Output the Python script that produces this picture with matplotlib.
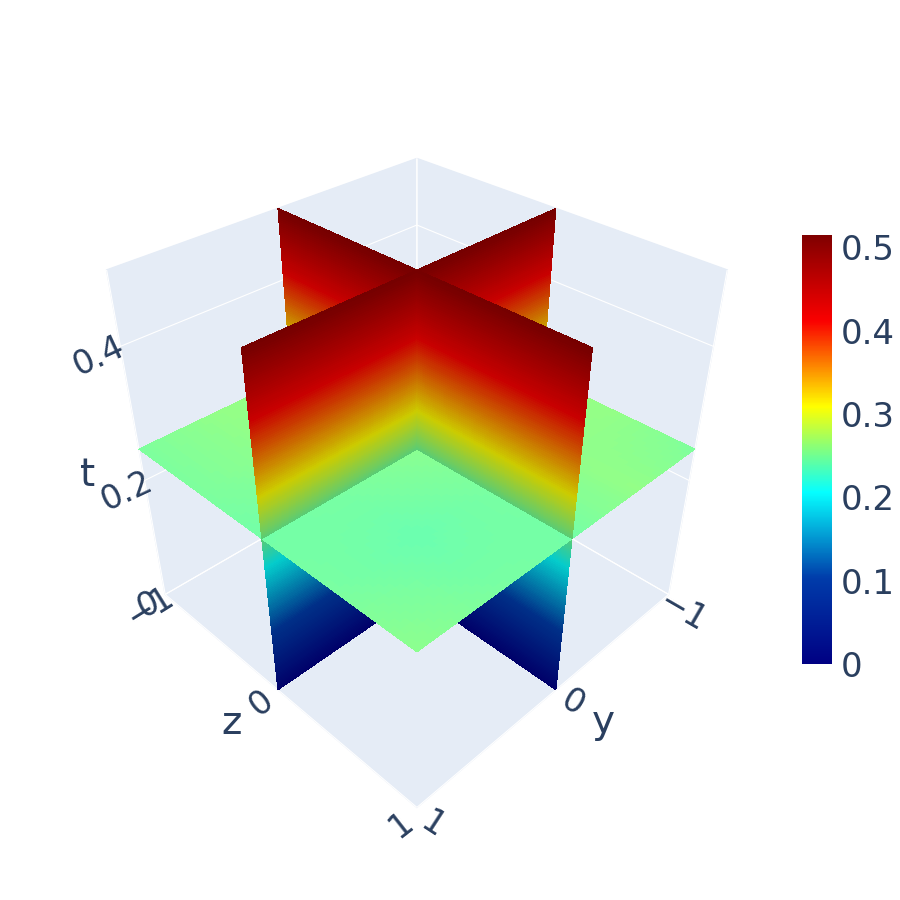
import numpy as np
import matplotlib
matplotlib.use('Agg')
import matplotlib.pyplot as plt
from matplotlib.cm import ScalarMappable
from matplotlib.colors import LinearSegmentedColormap, Normalize

# colour scale
jet_colors = ['#000083', '#003CAA', '#05FFFF', '#FFFF00', '#FA0000', '#800000']
cmin = 0
cmax = 0.515

# axes
y_ticks = [-1, 0, 1]
z_ticks = [-1, 0, 1]
t_ticks = [0, 0.2, 0.4]
t_range = [0, 0.5]
t_slice = 0.25
cbar_ticks = [0, 0.1, 0.2, 0.3, 0.4, 0.5]
cbar_labels = ['0', '0.1', '0.2', '0.3', '0.4', '0.5']

# values on the horizontal slice
slice_pos = [-1, -0.5, 0, 0.5, 1]
slice_vals = [
    [0.262, 0.262, 0.262, 0.260, 0.250],
    [0.262, 0.262, 0.260, 0.258, 0.260],
    [0.262, 0.260, 0.256, 0.248, 0.245],
    [0.260, 0.258, 0.248, 0.241, 0.248],
    [0.250, 0.250, 0.245, 0.248, 0.257],
]

TEXT = '#2a3f5f'
PANE = '#E5ECF6'
plt.rcParams['grid.color'] = 'white'
plt.rcParams['grid.linewidth'] = 0.8

cmap = LinearSegmentedColormap.from_list('plotly_jet', jet_colors, N=512)
norm = Normalize(cmin, cmax)


def px_text(x, y, s, size=24, rot=0):
    fig.text(x / 900, 1 - y / 900, s, color=TEXT, fontsize=size, rotation=rot,
             ha='center', va='center', rotation_mode='anchor')


def draw_arm(ax, axis_name, end, lo, hi, order):
    # one half of a vertical slice, from the centre out to the wall
    t = np.linspace(lo, hi, 90)
    s = np.array([0, end])
    S, T = np.meshgrid(s, t)
    Zero = np.zeros_like(S)
    mid = (t[:-1] + t[1:]) / 2
    cols = cmap(norm(mid)).reshape(-1, 1, 4).copy()
    cols[..., :3] *= 0.8
    if axis_name == 'y':
        ax.plot_surface(S, Zero, T, facecolors=cols, shade=False, rstride=1, cstride=1,
                        antialiased=False, linewidth=0, zorder=order)
    else:
        ax.plot_surface(Zero, S, T, facecolors=cols, shade=False, rstride=1, cstride=1,
                        antialiased=False, linewidth=0, zorder=order)


def draw_floor_slice(ax, order):
    fine = np.linspace(-1, 1, 61)
    vals = np.array(slice_vals)
    rows = np.array([np.interp(fine, slice_pos, r) for r in vals])
    grid = np.array([np.interp(fine, slice_pos, c) for c in rows.T]).T
    mid = (grid[:-1, :-1] + grid[1:, 1:]) / 2
    cols = cmap(norm(mid)).copy()
    cols[..., :3] = cols[..., :3] * 0.9 + 0.1
    X, Y = np.meshgrid(fine, fine, indexing='ij')
    ax.plot_surface(X, Y, np.full_like(X, t_slice), facecolors=cols, shade=False,
                    rstride=1, cstride=1, antialiased=False, linewidth=0, zorder=order)


fig = plt.figure(figsize=(9, 9), dpi=100)
ax = fig.add_axes([0.0861, 0.1239, 0.7344, 0.7344], projection='3d', computed_zorder=False)
ax.set_box_aspect((1, 1, 1))
ax.set_proj_type('persp', focal_length=0.3046)
ax.view_init(elev=35.26, azim=45)
ax.set_xlim(-1, 1, view_margin=0)
ax.set_ylim(-1, 1, view_margin=0)
ax.set_zlim(t_range[0], t_range[1], view_margin=0)
ax.patch.set_alpha(0)

ax.set_xticks(y_ticks, labels=['', '', ''])
ax.set_yticks(z_ticks, labels=['', '', ''])
ax.set_zticks(t_ticks, labels=['', '', ''])
for axis in (ax.xaxis, ax.yaxis, ax.zaxis):
    axis.set_pane_color(PANE)
    axis.pane.set_edgecolor(PANE)
    axis.line.set_color((0, 0, 0, 0))
ax.tick_params(axis='both', color=(0, 0, 0, 0))
ax.tick_params(axis='z', color=(0, 0, 0, 0))

# painter's order: below the slice, the slice, then above it
draw_arm(ax, 'y', -1, t_range[0], t_slice, 1)
draw_arm(ax, 'x', -1, t_range[0], t_slice, 1)
draw_arm(ax, 'y', 1, t_range[0], t_slice, 2)
draw_arm(ax, 'x', 1, t_range[0], t_slice, 2)
draw_floor_slice(ax, 3)
draw_arm(ax, 'y', -1, t_slice, t_range[1], 4)
draw_arm(ax, 'x', -1, t_slice, t_range[1], 4)
draw_arm(ax, 'y', 1, t_slice, t_range[1], 5)
draw_arm(ax, 'x', 1, t_slice, t_range[1], 5)

# colour bar
cax = fig.add_axes([802 / 900, 1 - 664 / 900, 30 / 900, 429 / 900])
cb = fig.colorbar(ScalarMappable(norm=norm, cmap=cmap), cax=cax)
cb.outline.set_visible(False)
cb.set_ticks(cbar_ticks, labels=cbar_labels)
cax.tick_params(length=0, labelsize=24.5, labelcolor=TEXT, pad=6)

# tick labels and axis titles, tilted like the axes they belong to
px_text(99, 356, '0.4', rot=25)
px_text(127, 491, '0.2', rot=25)
px_text(148, 605, '0', rot=25)
px_text(150, 607, '\u22121', rot=32)
px_text(261, 703, '0', rot=38)
px_text(401, 825, '1', rot=38)
px_text(432, 825, '1', rot=-33)
px_text(573, 703, '0', rot=-30)
px_text(683, 612, '\u22121', rot=-30)
px_text(88, 475, 't', size=28)
px_text(232, 723, 'z', size=28)
px_text(603, 722, 'y', size=28)

fig.savefig('out.png', dpi=100)
